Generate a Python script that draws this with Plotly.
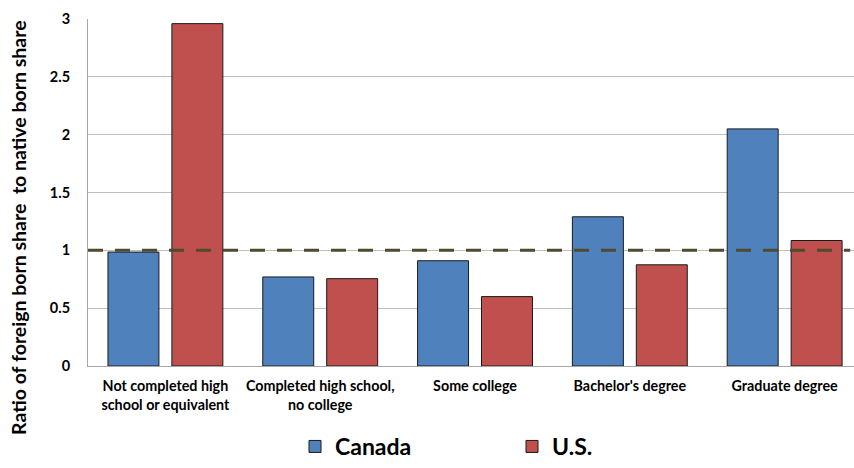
import plotly.graph_objects as go

categories = [
    "Not completed high<br>school or equivalent",
    "Completed high school,<br>no college",
    "Some college",
    "Bachelor's degree",
    "Graduate degree",
]
canada = [0.985, 0.77, 0.91, 1.29, 2.05]
us = [2.96, 0.755, 0.60, 0.875, 1.085]
reference_value = 1.0
y_ticks = [0, 0.5, 1, 1.5, 2, 2.5, 3]
y_tick_labels = ["0", "0.5", "1", "1.5", "2", "2.5", "3"]
y_title = "Ratio of foreign born share  to native born share"

FONT = "Lato"

fig = go.Figure()
fig.add_trace(go.Bar(
    x=list(range(len(categories))), y=canada, name="Canada",
    marker=dict(color="#4F81BD", line=dict(color="#1a1a1a", width=1)),
))
fig.add_trace(go.Bar(
    x=list(range(len(categories))), y=us, name="U.S.",
    marker=dict(color="#C0504D", line=dict(color="#1a1a1a", width=1)),
))

fig.add_shape(
    type="line", xref="paper", yref="y", x0=0, x1=0.995,
    y0=reference_value, y1=reference_value,
    line=dict(color="#4F4A2E", width=3, dash="15px,12px"), layer="above",
)

fig.add_annotation(
    text=y_title, xref="paper", yref="paper",
    x=-88 / 766 + 18 / 766, y=1 + (19 - 228) / 347,
    xanchor="center", yanchor="middle", showarrow=False, textangle=-90,
    font=dict(family=FONT, size=19.5, color="#000000", weight="bold"),
)

fig.update_layout(
    width=854, height=468,
    margin=dict(l=88, r=0, t=19, b=102),
    paper_bgcolor="white", plot_bgcolor="white",
    barmode="group", bargap=0.174, bargroupgap=0.203,
    font=dict(family=FONT, color="#000000"),
    showlegend=True,
    legend=dict(
        orientation="h", xref="container", yref="container",
        x=295 / 854, y=-0.012, xanchor="left", yanchor="bottom",
        entrywidth=172, entrywidthmode="pixels",
        font=dict(family=FONT, size=23, color="#000000", weight="bold"),
    ),
    xaxis=dict(
        tickmode="array", tickvals=list(range(len(categories))), ticktext=categories,
        range=[-0.5, 4.448],
        showline=True, linecolor="#A6A6A6", linewidth=1,
        showgrid=False, ticks="", zeroline=False, ticklabelstandoff=7,
        tickfont=dict(family=FONT, size=14.3, color="#000000", weight="bold"),
    ),
    yaxis=dict(
        range=[0, 3], tickmode="array", tickvals=y_ticks, ticktext=y_tick_labels,
        showline=True, linecolor="#A6A6A6", linewidth=1,
        showgrid=True, gridcolor="#BFBFBF", gridwidth=1,
        zeroline=False, ticks="", ticklabelstandoff=14,
        tickfont=dict(family=FONT, size=14.5, color="#000000", weight="bold"),
    ),
)

fig.write_html("out.html")
